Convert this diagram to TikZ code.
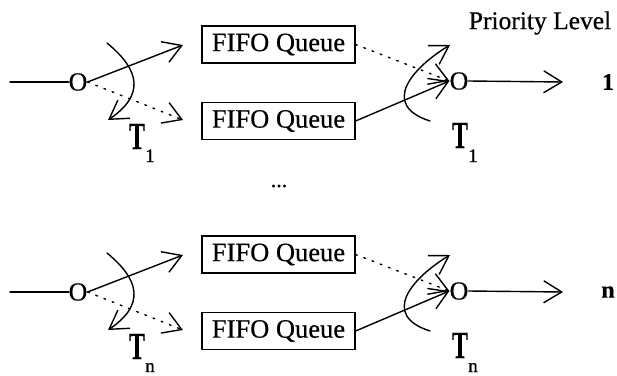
\documentclass[tikz,border=0pt]{standalone}
\usepackage{fontspec}
\setmainfont{Liberation Serif}[FakeBold=0.5]
\usetikzlibrary{arrows.meta}
\tikzset{
  ln/.style={line width=1.4pt, line cap=round},
  arr/.style={ln, -{Straight Barb[length=18pt,width=22pt,line width=1.4pt]}},
  dots/.style={dash pattern=on 1.8pt off 7pt},
  onode/.style={inner sep=0pt, font=\fontsize{26}{28}\selectfont},
  qbox/.style={draw, line width=1.2pt, minimum width=153pt, minimum height=37pt, inner sep=0pt, font=\fontsize{26.5}{28}\selectfont},
  tlab/.style={inner sep=0pt, anchor=base, font=\bfseries\fontsize{24}{28}\selectfont},
  sublab/.style={inner sep=0pt, anchor=base, font=\fontsize{19}{20}\selectfont},
  lvl/.style={inner sep=0pt, font=\bfseries\fontsize{24}{26}\selectfont},
  txt/.style={inner sep=0pt, font=\fontsize{25.5}{28}\selectfont}
}
\begin{document}
\begin{tikzpicture}[x=1pt,y=-1pt]
\useasboundingbox (0,0) rectangle (617,375);
\node[txt] (prio) at (540,23) {Priority Level};
\node[inner sep=0pt, anchor=base, font=\fontsize{22}{24}\selectfont] (dots) at (279,187) {...};
\foreach \dy/\g/\lab in {0/a/1, 210/b/n} {
  % left dispatcher
  \coordinate (in-\g) at (10,82+\dy);
  \node[onode] (o1-\g) at (78,82+\dy) {O};
  \draw[ln] (in-\g) -- (o1-\g.west);
  \coordinate (t1-\g) at (183,45+\dy);
  \coordinate (t2-\g) at (183,120+\dy);
  \draw[arr] (o1-\g.east) -- (t1-\g);
  \draw[arr, dots] (o1-\g.east) -- (t2-\g);
  % left switching curve
  \coordinate (cs1-\g) at (107,43+\dy);
  \coordinate (ce1-\g) at (108,120+\dy);
  \draw[arr] (cs1-\g) .. controls (140,70+\dy) and (145,95+\dy) .. (ce1-\g);
  \node[tlab] (T1-\g) at (137,149+\dy) {\scalebox{1}[1.6]{T}};
  \node[sublab] (s1-\g) at (150,162+\dy) {\lab};
  % queues
  \node[qbox] (q1-\g) at (278.5,44.5+\dy) {FIFO Queue};
  \node[qbox] (q2-\g) at (278.5,121+\dy) {FIFO Queue};
  % right multiplexer
  \node[onode] (o2-\g) at (459,81+\dy) {O};
  \draw[arr, dots] (q1-\g.east) -- (o2-\g.west);
  \draw[arr] (q2-\g.east) -- (o2-\g.west);
  \coordinate (out-\g) at (563,82+\dy);
  \draw[arr] (o2-\g.east) -- (out-\g);
  \node[lvl] (lv-\g) at (608,82+\dy) {\lab};
  % right switching curve
  \coordinate (cs2-\g) at (430,121+\dy);
  \coordinate (ce2-\g) at (450,45+\dy);
  \draw[arr] (cs2-\g) .. controls (380,105+\dy) and (412,68+\dy) .. (ce2-\g);
  \node[tlab] (T2-\g) at (460,148+\dy) {\scalebox{1}[1.6]{T}};
  \node[sublab] (s2-\g) at (473,162+\dy) {\lab};
}
\end{tikzpicture}
\end{document}
